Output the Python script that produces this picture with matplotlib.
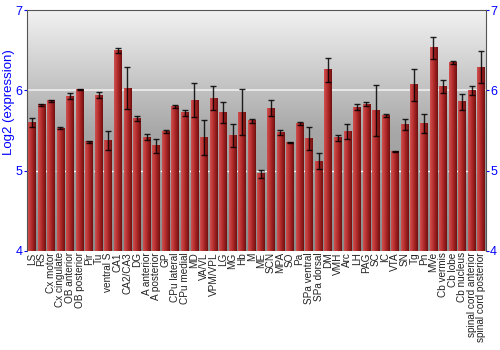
import numpy as np
import matplotlib
matplotlib.use("Agg")
import matplotlib.pyplot as plt
from matplotlib.colors import LinearSegmentedColormap

regions = ["LS", "RS", "Cx motor", "Cx cingulate", "OB anterior", "OB posterior", "Pir", "Tu",
           "ventral S", "CA1", "CA2/CA3", "DG", "A anterior", "A posterior", "GP", "CPu lateral",
           "CPu medial", "MD", "VA/VL", "VPM/VPL", "LG", "MG", "Hb", "M", "ME", "SCN", "MPA", "SO",
           "Pa", "SPa ventral", "SPa dorsal", "DM", "VMH", "Arc", "LH", "PAG", "SC", "IC", "VTA",
           "SN", "Tg", "Pn", "MVe", "Cb vermis", "Cb lobe", "Cb nucleus",
           "spinal cord anterior", "spinal cord posterior"]
expr = [5.60, 5.82, 5.87, 5.53, 5.93, 6.01, 5.36, 5.94, 5.38, 6.50, 6.03, 5.65, 5.42, 5.31, 5.49,
        5.80, 5.72, 5.88, 5.41, 5.90, 5.73, 5.44, 5.73, 5.62, 4.96, 5.78, 5.48, 5.35, 5.59, 5.40,
        5.12, 6.26, 5.41, 5.49, 5.79, 5.83, 5.75, 5.69, 5.24, 5.58, 6.07, 5.59, 6.53, 6.05, 6.35,
        5.86, 6.00, 6.29]
err = [0.06, 0.01, 0.01, 0.01, 0.04, 0.01, 0.01, 0.04, 0.12, 0.03, 0.26, 0.03, 0.04, 0.09, 0.02,
       0.02, 0.04, 0.21, 0.22, 0.15, 0.13, 0.14, 0.29, 0.02, 0.05, 0.10, 0.03, 0.01, 0.02, 0.14,
       0.10, 0.15, 0.04, 0.09, 0.04, 0.03, 0.32, 0.02, 0.005, 0.07, 0.20, 0.12, 0.14, 0.08, 0.02,
       0.10, 0.06, 0.20]

plt.rcParams['font.family'] = ['Liberation Sans', 'DejaVu Sans']

fig = plt.figure(figsize=(5, 3.5), dpi=100)
ax = fig.add_axes([0.054, 0.283, 0.918, 0.688])
ymin, ymax = 4, 7
x = np.arange(len(regions))
w = 0.8

# gray gradient background
bg = LinearSegmentedColormap.from_list("bg", ["#8a8a8a", "#a8a8a8", "#f2f2f2"])
grad = np.linspace(0, 1, 256).reshape(-1, 1)
ax.imshow(grad, cmap=bg, origin="lower", aspect="auto", extent=(0, 1, 0, 1),
          transform=ax.transAxes, zorder=0)

ax.axhline(6, color="#eeeeee", lw=1.2, zorder=1)
ax.axhline(5, color="white", lw=1, ls=(0, (2, 1)), zorder=1)

# red gradient bars
red = LinearSegmentedColormap.from_list("red", ["#d05050", "#b02828", "#701010"])
hgrad = np.linspace(0, 1, 64).reshape(1, -1)
for xi, v in zip(x, expr):
    ax.imshow(hgrad, cmap=red, aspect="auto", extent=(xi - w / 2, xi + w / 2, ymin, v), zorder=2)

ax.errorbar(x, expr, yerr=err, fmt="none", ecolor="black", elinewidth=1, capsize=2,
            capthick=1, alpha=0.85, zorder=3)

ax.set_xlim(-0.5, len(regions) - 0.5)
ax.set_ylim(ymin, ymax)
ax.set_xticks(x)
ax.set_xticklabels(regions, rotation=90, fontsize=7.2, color="#222222")
ax.tick_params(axis="x", length=0, pad=1)
ax.set_yticks([4, 5, 6, 7])
ax.tick_params(axis="y", colors="blue", labelsize=9, length=2, pad=1, right=True, labelright=True)
ax.set_ylabel("Log2 (expression)", color="blue", fontsize=9.5)
ax.yaxis.set_label_coords(-0.027, 0.62)
for s in ax.spines.values():
    s.set_color("#555555")
ax.spines["bottom"].set_visible(False)

fig.savefig("out.png", dpi=100)
